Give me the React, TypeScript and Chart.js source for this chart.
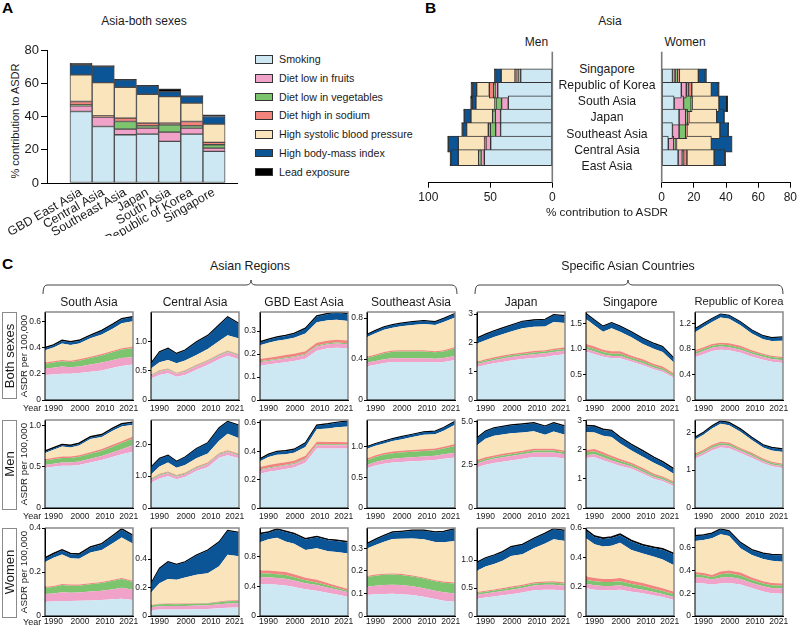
import React, { useEffect, useRef } from 'react';
import { Chart, registerables } from 'chart.js';

Chart.register(...registerables);

const FONT = "'Liberation Sans', Arial, Helvetica, sans-serif";
Chart.defaults.font.family = FONT;
Chart.defaults.color = '#1a1a1a';

// Risk factors, bottom to top of every stack
const RISKS = [
  'Smoking',
  'Diet low in fruits',
  'Diet low in vegetables',
  'Diet high in sodium',
  'High systolic blood pressure',
  'High body-mass index',
  'Lead exposure',
];
const RISK_COLORS = ['#cde8f3', '#f0a2c9', '#7dc46f', '#f2837d', '#fae4bb', '#0b5496', '#000000'];

// ---------- Panel A: Asia, both sexes (% contribution to ASDR) ----------
const A_REGIONS = ['GBD East Asia', 'Central Asia', 'Southeast Asia', 'Japan', 'South Asia', 'Republic of Korea', 'Singapore'];
const A_SMOKING = [43, 34, 29, 29.4, 25, 29.4, 19];
const A_FRUITS = [3.4, 5.6, 3.4, 3.6, 5.6, 3.6, 2];
const A_VEGETABLES = [0.6, 0.2, 4.6, 1.4, 4.4, 1.4, 2];
const A_SODIUM = [2, 0.6, 2, 1.6, 1, 2.6, 1.4];
const A_SBP = [16, 20, 18.6, 17.4, 16, 11, 11];
const A_BMI = [6, 9.6, 4.4, 5, 3, 4, 4.6];
const A_LEAD = [1, 0.6, 0.4, 0.4, 1.6, 0.6, 1];
const A_Y_TICKS = [0, 20, 40, 60, 80];

// ---------- Panel B: Asia, men vs women (% contribution to ASDR) ----------
const B_REGIONS = ['Singapore', 'Republic of Korea', 'South Asia', 'Japan', 'Southeast Asia', 'Central Asia', 'East Asia'];
const B_MEN_SMOKING = [25.5, 44, 35.5, 41.7, 41.7, 49.7, 54.8];
const B_MEN_FRUITS = [1.5, 2.2, 5.4, 4.3, 4, 3.8, 2.7];
const B_MEN_VEGETABLES = [1.5, 1, 4.5, 1, 4.3, 0.5, 0.5];
const B_MEN_SODIUM = [1.5, 3.6, 0.8, 1.1, 1.6, 0.6, 1.4];
const B_MEN_SBP = [11.2, 10.2, 15.4, 17.5, 17.5, 21.2, 16.4];
const B_MEN_BMI = [4.5, 3.2, 2.9, 5.4, 3.2, 8.1, 5.9];
const B_MEN_LEAD = [1.1, 1.4, 1.4, 0.5, 0.8, 0.5, 0.8];
const B_WOMEN_SMOKING = [6.7, 12.2, 7.7, 10.8, 6.7, 4.1, 10.2];
const B_WOMEN_FRUITS = [1.6, 3.1, 5.9, 4.1, 4.1, 3.4, 2.6];
const B_WOMEN_VEGETABLES = [1.7, 1.4, 4.7, 1.2, 4.1, 1, 0.8];
const B_WOMEN_SODIUM = [1, 2, 0.6, 0.8, 0.8, 0.7, 2.1];
const B_WOMEN_SBP = [11.8, 12.2, 16.7, 17.3, 20.5, 21.7, 16.9];
const B_WOMEN_BMI = [4.3, 4.3, 4.1, 4.5, 5.1, 12.5, 6.6];
const B_WOMEN_LEAD = [0.8, 0.6, 1.4, 0.4, 0.4, 0.4, 0.6];
const B_MEN_TICKS = [0, 50, 100];
const B_WOMEN_TICKS = [0, 20, 40, 60, 80];

// ---------- Panel C: ASDR per 100,000 by year ----------
// rows of each table: smoking, fruits, vegetables, sodium, SBP, BMI, lead
const YEARS = [1990, 1993, 1996, 1999, 2002, 2006, 2010, 2014, 2017, 2021];
const YEAR_TICKS = [1990, 2000, 2010, 2021];
const C_REGIONS = ['South Asia', 'Central Asia', 'GBD East Asia', 'Southeast Asia', 'Japan', 'Singapore', 'Republic of Korea'];
const C_SEXES = ['Both sexes', 'Men', 'Women'];

const SOUTH_ASIA_BOTH = [
  [0.19, 0.195, 0.2, 0.2, 0.205, 0.215, 0.225, 0.245, 0.26, 0.27],
  [0.05, 0.05, 0.055, 0.05, 0.05, 0.055, 0.06, 0.06, 0.06, 0.055],
  [0.035, 0.04, 0.04, 0.04, 0.045, 0.05, 0.055, 0.06, 0.065, 0.07],
  [0.01, 0.01, 0.01, 0.01, 0.01, 0.01, 0.01, 0.01, 0.01, 0.01],
  [0.095, 0.105, 0.125, 0.12, 0.12, 0.14, 0.15, 0.17, 0.19, 0.195],
  [0.015, 0.015, 0.02, 0.02, 0.02, 0.02, 0.025, 0.03, 0.03, 0.03],
  [0.006, 0.006, 0.006, 0.006, 0.006, 0.006, 0.006, 0.006, 0.006, 0.006],
];
const CENTRAL_ASIA_BOTH = [
  [0.37, 0.43, 0.46, 0.4, 0.43, 0.52, 0.6, 0.7, 0.76, 0.7],
  [0.05, 0.055, 0.055, 0.05, 0.055, 0.06, 0.06, 0.065, 0.065, 0.06],
  [0.01, 0.012, 0.012, 0.01, 0.012, 0.013, 0.013, 0.015, 0.015, 0.015],
  [0.01, 0.012, 0.012, 0.01, 0.012, 0.012, 0.012, 0.012, 0.012, 0.012],
  [0.1, 0.14, 0.15, 0.16, 0.17, 0.17, 0.19, 0.22, 0.26, 0.27],
  [0.08, 0.17, 0.19, 0.16, 0.17, 0.215, 0.225, 0.27, 0.31, 0.25],
  [0.01, 0.01, 0.01, 0.01, 0.01, 0.01, 0.01, 0.01, 0.01, 0.01],
];
const GBD_EAST_ASIA_BOTH = [
  [0.15, 0.155, 0.16, 0.165, 0.17, 0.18, 0.215, 0.225, 0.228, 0.225],
  [0.015, 0.015, 0.015, 0.016, 0.016, 0.017, 0.018, 0.018, 0.018, 0.018],
  [0.004, 0.004, 0.004, 0.004, 0.004, 0.004, 0.004, 0.004, 0.004, 0.004],
  [0.01, 0.01, 0.011, 0.011, 0.011, 0.011, 0.012, 0.012, 0.012, 0.012],
  [0.06, 0.065, 0.068, 0.068, 0.07, 0.078, 0.09, 0.088, 0.088, 0.085],
  [0.012, 0.013, 0.014, 0.015, 0.017, 0.02, 0.025, 0.028, 0.03, 0.03],
  [0.003, 0.003, 0.003, 0.003, 0.003, 0.003, 0.003, 0.003, 0.003, 0.003],
];
const SOUTHEAST_ASIA_BOTH = [
  [0.33, 0.345, 0.36, 0.37, 0.37, 0.37, 0.37, 0.365, 0.37, 0.39],
  [0.035, 0.036, 0.037, 0.037, 0.038, 0.038, 0.038, 0.038, 0.039, 0.04],
  [0.045, 0.052, 0.06, 0.065, 0.066, 0.066, 0.065, 0.062, 0.064, 0.075],
  [0.012, 0.012, 0.012, 0.012, 0.012, 0.012, 0.012, 0.012, 0.012, 0.013],
  [0.192, 0.207, 0.217, 0.221, 0.233, 0.247, 0.256, 0.254, 0.276, 0.288],
  [0.022, 0.024, 0.025, 0.026, 0.027, 0.028, 0.03, 0.03, 0.032, 0.035],
  [0.004, 0.004, 0.004, 0.004, 0.004, 0.004, 0.004, 0.004, 0.004, 0.004],
];
const JAPAN_BOTH = [
  [1.15, 1.22, 1.28, 1.33, 1.38, 1.43, 1.47, 1.5, 1.55, 1.6],
  [0.1, 0.11, 0.11, 0.12, 0.12, 0.12, 0.13, 0.13, 0.13, 0.13],
  [0.05, 0.05, 0.055, 0.055, 0.06, 0.06, 0.06, 0.06, 0.06, 0.06],
  [0.04, 0.045, 0.045, 0.05, 0.05, 0.05, 0.05, 0.05, 0.05, 0.05],
  [0.63, 0.665, 0.71, 0.745, 0.78, 0.85, 0.85, 0.83, 0.93, 0.85],
  [0.18, 0.19, 0.2, 0.2, 0.21, 0.22, 0.22, 0.23, 0.24, 0.24],
  [0.02, 0.02, 0.02, 0.02, 0.02, 0.02, 0.02, 0.02, 0.02, 0.02],
];
const SINGAPORE_BOTH = [
  [0.95, 0.9, 0.85, 0.82, 0.82, 0.75, 0.68, 0.6, 0.55, 0.43],
  [0.05, 0.05, 0.045, 0.045, 0.045, 0.04, 0.04, 0.035, 0.035, 0.03],
  [0.05, 0.05, 0.045, 0.045, 0.045, 0.04, 0.04, 0.035, 0.035, 0.03],
  [0.05, 0.05, 0.045, 0.045, 0.045, 0.04, 0.04, 0.035, 0.035, 0.03],
  [0.49, 0.41, 0.355, 0.455, 0.385, 0.36, 0.3, 0.295, 0.285, 0.21],
  [0.1, 0.1, 0.1, 0.1, 0.1, 0.1, 0.1, 0.1, 0.1, 0.08],
  [0.01, 0.01, 0.01, 0.01, 0.01, 0.01, 0.01, 0.01, 0.01, 0.01],
];
const KOREA_BOTH = [
  [0.67, 0.72, 0.77, 0.79, 0.78, 0.74, 0.68, 0.63, 0.6, 0.58],
  [0.05, 0.05, 0.05, 0.05, 0.05, 0.05, 0.045, 0.045, 0.045, 0.045],
  [0.03, 0.03, 0.03, 0.03, 0.03, 0.03, 0.03, 0.03, 0.03, 0.03],
  [0.03, 0.03, 0.03, 0.03, 0.03, 0.03, 0.025, 0.02, 0.02, 0.02],
  [0.285, 0.315, 0.345, 0.395, 0.385, 0.325, 0.265, 0.23, 0.23, 0.255],
  [0.05, 0.05, 0.05, 0.05, 0.05, 0.05, 0.05, 0.05, 0.05, 0.055],
  [0.005, 0.005, 0.005, 0.005, 0.005, 0.005, 0.005, 0.005, 0.005, 0.005],
];

const SOUTH_ASIA_MEN = [
  [0.486, 0.5, 0.51, 0.51, 0.52, 0.55, 0.58, 0.62, 0.65, 0.68],
  [0.034, 0.036, 0.04, 0.04, 0.042, 0.045, 0.05, 0.055, 0.06, 0.08],
  [0.053, 0.055, 0.055, 0.055, 0.057, 0.06, 0.063, 0.07, 0.075, 0.08],
  [0.017, 0.017, 0.018, 0.018, 0.018, 0.019, 0.02, 0.022, 0.023, 0.024],
  [0.075, 0.096, 0.12, 0.11, 0.12, 0.16, 0.145, 0.169, 0.177, 0.142],
  [0.015, 0.016, 0.017, 0.017, 0.018, 0.02, 0.022, 0.024, 0.025, 0.024],
  [0.01, 0.01, 0.01, 0.01, 0.01, 0.01, 0.01, 0.01, 0.01, 0.01],
];
const CENTRAL_ASIA_MEN = [
  [0.79, 0.93, 1.0, 0.9, 0.97, 1.16, 1.28, 1.58, 1.66, 1.56],
  [0.08, 0.09, 0.09, 0.08, 0.085, 0.09, 0.09, 0.095, 0.095, 0.09],
  [0.03, 0.03, 0.03, 0.03, 0.03, 0.03, 0.03, 0.03, 0.03, 0.03],
  [0.025, 0.025, 0.025, 0.025, 0.025, 0.025, 0.025, 0.025, 0.025, 0.025],
  [0.125, 0.225, 0.285, 0.225, 0.24, 0.255, 0.285, 0.38, 0.52, 0.485],
  [0.22, 0.25, 0.22, 0.2, 0.24, 0.3, 0.33, 0.4, 0.38, 0.4],
  [0.01, 0.01, 0.01, 0.01, 0.01, 0.01, 0.01, 0.01, 0.01, 0.01],
];
const GBD_EAST_ASIA_MEN = [
  [0.242, 0.255, 0.265, 0.275, 0.285, 0.32, 0.42, 0.42, 0.42, 0.42],
  [0.024, 0.024, 0.024, 0.024, 0.024, 0.024, 0.023, 0.023, 0.023, 0.022],
  [0.006, 0.006, 0.006, 0.006, 0.006, 0.006, 0.006, 0.006, 0.006, 0.006],
  [0.018, 0.018, 0.018, 0.018, 0.018, 0.018, 0.018, 0.017, 0.017, 0.016],
  [0.04, 0.057, 0.062, 0.057, 0.057, 0.062, 0.088, 0.094, 0.104, 0.111],
  [0.014, 0.016, 0.021, 0.021, 0.021, 0.026, 0.026, 0.031, 0.031, 0.036],
  [0.004, 0.004, 0.004, 0.004, 0.004, 0.004, 0.004, 0.004, 0.004, 0.004],
];
const SOUTHEAST_ASIA_MEN = [
  [0.645, 0.69, 0.72, 0.74, 0.75, 0.76, 0.77, 0.78, 0.8, 0.82],
  [0.055, 0.058, 0.06, 0.062, 0.063, 0.065, 0.067, 0.07, 0.073, 0.08],
  [0.075, 0.08, 0.085, 0.088, 0.09, 0.09, 0.09, 0.09, 0.095, 0.11],
  [0.03, 0.03, 0.03, 0.03, 0.03, 0.03, 0.03, 0.03, 0.03, 0.03],
  [0.159, 0.154, 0.155, 0.168, 0.183, 0.209, 0.235, 0.23, 0.26, 0.314],
  [0.03, 0.032, 0.034, 0.036, 0.038, 0.04, 0.042, 0.044, 0.046, 0.05],
  [0.006, 0.006, 0.006, 0.006, 0.006, 0.006, 0.006, 0.006, 0.006, 0.006],
];
const JAPAN_MEN = [
  [2.35, 2.5, 2.6, 2.68, 2.75, 2.85, 2.95, 2.95, 2.95, 2.85],
  [0.22, 0.23, 0.24, 0.25, 0.25, 0.25, 0.26, 0.26, 0.26, 0.26],
  [0.1, 0.1, 0.1, 0.11, 0.11, 0.11, 0.11, 0.11, 0.11, 0.11],
  [0.1, 0.1, 0.1, 0.1, 0.1, 0.1, 0.1, 0.1, 0.1, 0.09],
  [0.86, 1.07, 1.14, 1.11, 1.11, 1.06, 1.01, 0.82, 1.0, 0.92],
  [0.4, 0.42, 0.43, 0.44, 0.45, 0.46, 0.47, 0.47, 0.48, 0.48],
  [0.03, 0.03, 0.03, 0.03, 0.03, 0.03, 0.03, 0.03, 0.03, 0.03],
];
const SINGAPORE_MEN = [
  [1.72, 1.75, 1.65, 1.55, 1.45, 1.35, 1.18, 1.0, 0.92, 0.75],
  [0.1, 0.1, 0.1, 0.09, 0.09, 0.08, 0.07, 0.07, 0.06, 0.06],
  [0.1, 0.1, 0.09, 0.09, 0.08, 0.07, 0.07, 0.06, 0.06, 0.05],
  [0.08, 0.08, 0.08, 0.07, 0.07, 0.06, 0.06, 0.05, 0.05, 0.05],
  [0.62, 0.57, 0.57, 0.65, 0.53, 0.42, 0.39, 0.37, 0.32, 0.26],
  [0.2, 0.2, 0.2, 0.2, 0.2, 0.19, 0.18, 0.17, 0.16, 0.15],
  [0.03, 0.03, 0.03, 0.03, 0.03, 0.03, 0.03, 0.03, 0.03, 0.03],
];
const KOREA_MEN = [
  [1.3, 1.4, 1.52, 1.6, 1.58, 1.45, 1.32, 1.18, 1.1, 1.05],
  [0.06, 0.06, 0.065, 0.065, 0.065, 0.06, 0.06, 0.055, 0.05, 0.05],
  [0.04, 0.04, 0.045, 0.045, 0.045, 0.04, 0.04, 0.04, 0.04, 0.04],
  [0.04, 0.04, 0.04, 0.04, 0.04, 0.035, 0.035, 0.03, 0.03, 0.03],
  [0.365, 0.395, 0.43, 0.475, 0.455, 0.43, 0.34, 0.29, 0.3, 0.305],
  [0.05, 0.05, 0.055, 0.06, 0.06, 0.06, 0.06, 0.06, 0.065, 0.07],
  [0.015, 0.015, 0.015, 0.015, 0.015, 0.015, 0.015, 0.015, 0.015, 0.015],
];

const SOUTH_ASIA_WOMEN = [
  [0.065, 0.066, 0.068, 0.068, 0.069, 0.071, 0.073, 0.076, 0.078, 0.073],
  [0.035, 0.036, 0.04, 0.038, 0.038, 0.04, 0.042, 0.046, 0.05, 0.047],
  [0.028, 0.03, 0.033, 0.032, 0.031, 0.033, 0.035, 0.038, 0.04, 0.035],
  [0.005, 0.005, 0.005, 0.005, 0.005, 0.005, 0.005, 0.005, 0.005, 0.005],
  [0.113, 0.128, 0.134, 0.12, 0.117, 0.14, 0.145, 0.167, 0.184, 0.169],
  [0.015, 0.016, 0.018, 0.018, 0.019, 0.022, 0.026, 0.032, 0.036, 0.035],
  [0.004, 0.004, 0.004, 0.004, 0.004, 0.004, 0.004, 0.004, 0.004, 0.004],
];
const CENTRAL_ASIA_WOMEN = [
  [0.04, 0.045, 0.046, 0.045, 0.046, 0.048, 0.05, 0.055, 0.058, 0.06],
  [0.022, 0.024, 0.025, 0.025, 0.025, 0.025, 0.025, 0.027, 0.03, 0.03],
  [0.012, 0.013, 0.013, 0.013, 0.013, 0.013, 0.013, 0.015, 0.016, 0.016],
  [0.004, 0.004, 0.004, 0.004, 0.004, 0.004, 0.004, 0.004, 0.004, 0.004],
  [0.087, 0.144, 0.172, 0.168, 0.182, 0.2, 0.208, 0.249, 0.322, 0.31],
  [0.061, 0.102, 0.118, 0.105, 0.108, 0.135, 0.16, 0.168, 0.167, 0.164],
  [0.003, 0.003, 0.003, 0.003, 0.003, 0.003, 0.003, 0.003, 0.003, 0.003],
];
const GBD_EAST_ASIA_WOMEN = [
  [0.43, 0.43, 0.42, 0.41, 0.39, 0.36, 0.34, 0.31, 0.29, 0.26],
  [0.09, 0.09, 0.09, 0.09, 0.085, 0.08, 0.075, 0.07, 0.065, 0.06],
  [0.05, 0.05, 0.05, 0.05, 0.045, 0.04, 0.035, 0.03, 0.025, 0.02],
  [0.04, 0.04, 0.04, 0.04, 0.04, 0.035, 0.035, 0.03, 0.025, 0.022],
  [0.38, 0.42, 0.45, 0.41, 0.41, 0.37, 0.423, 0.43, 0.455, 0.478],
  [0.108, 0.088, 0.108, 0.128, 0.128, 0.143, 0.15, 0.148, 0.148, 0.148],
  [0.012, 0.012, 0.012, 0.012, 0.012, 0.012, 0.012, 0.012, 0.012, 0.012],
];
const SOUTHEAST_ASIA_WOMEN = [
  [0.093, 0.096, 0.098, 0.099, 0.097, 0.093, 0.085, 0.075, 0.068, 0.063],
  [0.037, 0.038, 0.039, 0.04, 0.04, 0.039, 0.038, 0.037, 0.037, 0.037],
  [0.043, 0.045, 0.046, 0.045, 0.045, 0.043, 0.043, 0.042, 0.043, 0.044],
  [0.005, 0.005, 0.005, 0.005, 0.005, 0.005, 0.005, 0.005, 0.005, 0.005],
  [0.121, 0.131, 0.141, 0.153, 0.156, 0.164, 0.169, 0.169, 0.174, 0.184],
  [0.02, 0.023, 0.026, 0.028, 0.03, 0.034, 0.038, 0.042, 0.046, 0.052],
  [0.003, 0.003, 0.003, 0.003, 0.003, 0.003, 0.003, 0.003, 0.003, 0.003],
];
const JAPAN_WOMEN = [
  [0.31, 0.33, 0.35, 0.37, 0.39, 0.42, 0.46, 0.47, 0.47, 0.45],
  [0.07, 0.072, 0.075, 0.078, 0.08, 0.082, 0.085, 0.088, 0.09, 0.09],
  [0.03, 0.03, 0.03, 0.032, 0.033, 0.034, 0.035, 0.036, 0.037, 0.037],
  [0.02, 0.02, 0.02, 0.021, 0.022, 0.022, 0.023, 0.023, 0.023, 0.023],
  [0.38, 0.433, 0.455, 0.484, 0.545, 0.547, 0.607, 0.678, 0.75, 0.74],
  [0.14, 0.145, 0.15, 0.155, 0.16, 0.165, 0.17, 0.175, 0.18, 0.18],
  [0.01, 0.01, 0.01, 0.01, 0.01, 0.01, 0.01, 0.01, 0.01, 0.01],
];
const SINGAPORE_WOMEN = [
  [0.19, 0.18, 0.175, 0.175, 0.18, 0.165, 0.155, 0.14, 0.13, 0.11],
  [0.03, 0.03, 0.03, 0.03, 0.03, 0.028, 0.025, 0.023, 0.021, 0.02],
  [0.028, 0.028, 0.027, 0.027, 0.028, 0.026, 0.025, 0.022, 0.02, 0.018],
  [0.022, 0.022, 0.021, 0.021, 0.022, 0.021, 0.02, 0.019, 0.018, 0.018],
  [0.26, 0.23, 0.222, 0.227, 0.24, 0.21, 0.202, 0.201, 0.196, 0.181],
  [0.052, 0.049, 0.05, 0.052, 0.052, 0.059, 0.053, 0.058, 0.067, 0.072],
  [0.008, 0.008, 0.008, 0.008, 0.008, 0.008, 0.008, 0.008, 0.008, 0.008],
];
const KOREA_WOMEN = [
  [0.29, 0.285, 0.275, 0.285, 0.29, 0.275, 0.245, 0.215, 0.2, 0.195],
  [0.05, 0.05, 0.045, 0.05, 0.052, 0.05, 0.045, 0.045, 0.045, 0.045],
  [0.025, 0.022, 0.02, 0.03, 0.032, 0.03, 0.025, 0.025, 0.025, 0.025],
  [0.02, 0.02, 0.02, 0.025, 0.025, 0.025, 0.022, 0.02, 0.02, 0.02],
  [0.273, 0.288, 0.32, 0.327, 0.301, 0.214, 0.198, 0.195, 0.195, 0.191],
  [0.04, 0.04, 0.04, 0.04, 0.04, 0.045, 0.042, 0.045, 0.05, 0.053],
  [0.006, 0.006, 0.006, 0.006, 0.006, 0.006, 0.006, 0.006, 0.006, 0.006],
];

const C_TABLES = [
  [SOUTH_ASIA_BOTH, CENTRAL_ASIA_BOTH, GBD_EAST_ASIA_BOTH, SOUTHEAST_ASIA_BOTH, JAPAN_BOTH, SINGAPORE_BOTH, KOREA_BOTH],
  [SOUTH_ASIA_MEN, CENTRAL_ASIA_MEN, GBD_EAST_ASIA_MEN, SOUTHEAST_ASIA_MEN, JAPAN_MEN, SINGAPORE_MEN, KOREA_MEN],
  [SOUTH_ASIA_WOMEN, CENTRAL_ASIA_WOMEN, GBD_EAST_ASIA_WOMEN, SOUTHEAST_ASIA_WOMEN, JAPAN_WOMEN, SINGAPORE_WOMEN, KOREA_WOMEN],
];

// y tick labels of each small chart
const C_TICKS_BOTH = [
  ['0', '0.2', '0.4', '0.6'], ['0', '0.5', '1.0'], ['0', '0.1', '0.2', '0.3'], ['0', '0.4', '0.8'],
  ['0', '1', '2', '3'], ['0', '0.5', '1.0', '1.5'], ['0', '0.4', '0.8', '1.2'],
];
const C_TICKS_MEN = [
  ['0', '0.5', '1.0'], ['0', '1.0', '2.0'], ['0', '0.2', '0.4', '0.6'], ['0', '0.5', '1.0'],
  ['0', '2.5', '5.0'], ['0', '1', '2', '3'], ['0', '1', '2'],
];
const C_TICKS_WOMEN = [
  ['0', '0.2', '0.4'], ['0', '0.2', '0.4'], ['0', '0.4', '0.8'], ['0', '0.1', '0.2', '0.3'],
  ['0', '0.5', '1.0'], ['0', '0.2', '0.4', '0.6'], ['0', '0.2', '0.4', '0.6'],
];
const C_TICKS = [C_TICKS_BOTH, C_TICKS_MEN, C_TICKS_WOMEN];

// y axis upper bounds of each small chart
const C_AXIS_MAX = [
  [0.67, 1.51, 0.383, 0.858, 3.07, 1.725, 1.38],
  [1.063, 2.76, 0.62, 1.43, 5.08, 3.03, 2.32],
  [0.4, 0.617, 1.18, 0.39, 1.57, 0.6, 0.77],
];

// ---------- layout ----------
const COL_LEFT = [45, 151, 260, 367, 477, 586, 695];
const ROW_TOP = [312, 420, 528];
const PLOT = 88;
// horizontal nudge of each year label relative to its year position
const YEAR_LABEL_SHIFT = [8.5, 6.6, 3.2, -4.3];

const axisLinesPlugin = {
  id: 'axisLines',
  afterDatasetsDraw(chart: any) {
    const { ctx, chartArea } = chart;
    const { left, top, right, bottom } = chartArea;
    ctx.save();
    ctx.strokeStyle = '#8a8a8a';
    ctx.lineWidth = 1.5;
    ctx.beginPath();
    ctx.moveTo(left, top);
    ctx.lineTo(right, top);
    ctx.lineTo(right, bottom);
    ctx.stroke();
    ctx.strokeStyle = '#000';
    ctx.lineWidth = 1;
    ctx.beginPath();
    ctx.moveTo(left, top);
    ctx.lineTo(left, bottom);
    ctx.lineTo(right, bottom);
    ctx.stroke();
    ctx.restore();
  },
};

function yearLabelsPlugin(row: number) {
  return {
    id: 'yearLabels',
    afterDraw(chart: any) {
      const { ctx, chartArea, scales } = chart;
      const y = chartArea.bottom + (row === 2 ? 5.7 : 8.3);
      ctx.save();
      ctx.font = `8.5px ${FONT}`;
      ctx.fillStyle = '#1a1a1a';
      ctx.textAlign = 'center';
      ctx.textBaseline = 'middle';
      YEAR_TICKS.forEach((v, i) => {
        ctx.fillText(String(v), scales.x.getPixelForValue(v) + YEAR_LABEL_SHIFT[i], y);
      });
      ctx.restore();
    },
  };
}

function zeroLinePlugin(side: 'left' | 'right') {
  return {
    id: 'zeroLine',
    afterDatasetsDraw(chart: any) {
      const { ctx, chartArea } = chart;
      const x = side === 'left' ? chartArea.left : chartArea.right;
      ctx.save();
      ctx.strokeStyle = '#7a7a7a';
      ctx.lineWidth = 1.6;
      ctx.beginPath();
      ctx.moveTo(x, chartArea.top);
      ctx.lineTo(x, chartArea.bottom);
      ctx.stroke();
      ctx.restore();
    },
  };
}

function buildPanelA() {
  const series = [A_SMOKING, A_FRUITS, A_VEGETABLES, A_SODIUM, A_SBP, A_BMI, A_LEAD];
  return {
    type: 'bar',
    data: {
      datasets: series.map((vals, k) => ({
        label: RISKS[k],
        data: vals.map((v, i) => ({ x: i, y: v })),
        backgroundColor: RISK_COLORS[k],
        borderColor: '#4a4a4a',
        borderWidth: 1,
        borderSkipped: false,
        barPercentage: 1,
        categoryPercentage: 1,
      })),
    },
    options: {
      animation: false,
      responsive: false,
      devicePixelRatio: 1,
      layout: { padding: { left: 0, top: 14, right: 5, bottom: 0 } },
      plugins: { legend: { display: false }, tooltip: { enabled: false } },
      scales: {
        x: {
          type: 'linear',
          stacked: true,
          min: -1,
          max: 6.5,
          afterBuildTicks: (s: any) => {
            s.ticks = [-1, ...A_REGIONS.map((_, i) => i)].map((v) => ({ value: v }));
          },
          ticks: {
            autoSkip: false,
            minRotation: 30,
            maxRotation: 30,
            padding: 2,
            font: { size: 12.5 },
            color: '#1a1a1a',
            callback: (v: number) => (v >= 0 ? A_REGIONS[v] : ''),
          },
          grid: { display: false, drawTicks: false },
          border: { display: true, color: '#000', width: 1 },
          afterFit: (s: any) => { s.height = 53; },
        },
        y: {
          stacked: true,
          min: 0,
          max: 80,
          afterBuildTicks: (s: any) => { s.ticks = A_Y_TICKS.map((v) => ({ value: v })); },
          ticks: { font: { size: 13 }, padding: 2, color: '#1a1a1a' },
          grid: { display: true, drawOnChartArea: false, tickLength: 6, color: '#000' },
          border: { display: true, color: '#000', width: 1 },
          afterFit: (s: any) => { s.width = 47; },
        },
      },
    },
  };
}

function buildPanelB(series: number[][], ticks: number[], max: number, reverse: boolean, pad: { left: number; right: number }) {
  return {
    type: 'bar',
    data: {
      datasets: series.map((vals, k) => ({
        label: RISKS[k],
        data: vals.map((v, i) => ({ x: v, y: i })),
        backgroundColor: RISK_COLORS[k],
        borderColor: '#333',
        borderWidth: 1,
        borderSkipped: false,
        barThickness: 16,
      })),
    },
    options: {
      indexAxis: 'y',
      animation: false,
      responsive: false,
      devicePixelRatio: 1,
      layout: { padding: { left: pad.left, right: pad.right, top: 4.7, bottom: 0 } },
      plugins: { legend: { display: false }, tooltip: { enabled: false } },
      scales: {
        x: {
          type: 'linear',
          stacked: true,
          min: 0,
          max,
          reverse,
          afterBuildTicks: (s: any) => { s.ticks = ticks.map((v) => ({ value: v })); },
          ticks: { font: { size: 12 }, padding: 3, color: '#1a1a1a', maxRotation: 0, callback: (v: number) => String(v) },
          grid: { display: true, drawOnChartArea: false, tickLength: 5, color: '#000' },
          border: { display: true, color: '#000', width: 1 },
          afterFit: (s: any) => { s.height = 24.3; },
        },
        y: { type: 'linear', stacked: true, display: false, min: -1.05, max: 7.05, reverse: true },
      },
    },
    plugins: [zeroLinePlugin(reverse ? 'right' : 'left')],
  };
}

function buildArea(table: number[][], max: number, tickLabels: string[], row: number) {
  return {
    type: 'line',
    data: {
      datasets: table.map((vals, k) => ({
        label: RISKS[k],
        data: YEARS.map((yr, i) => ({ x: yr, y: vals[i] })),
        backgroundColor: RISK_COLORS[k],
        borderColor: k === 6 ? '#000' : 'rgba(0,0,0,0)',
        borderWidth: k === 6 ? 1.2 : 0,
        pointRadius: 0,
        tension: 0,
        fill: k === 0 ? 'origin' : '-1',
      })),
    },
    options: {
      animation: false,
      responsive: false,
      devicePixelRatio: 1,
      layout: { padding: { left: 0, top: 6, right: 10, bottom: 0 } },
      plugins: { legend: { display: false }, tooltip: { enabled: false } },
      scales: {
        x: {
          type: 'linear',
          min: 1990,
          max: 2021,
          afterBuildTicks: (s: any) => { s.ticks = YEAR_TICKS.map((v) => ({ value: v })); },
          ticks: { display: false },
          grid: { display: false, drawTicks: false },
          border: { display: true, color: '#000', width: 1 },
          afterFit: (s: any) => { s.height = 16; },
        },
        y: {
          stacked: true,
          min: 0,
          max,
          afterBuildTicks: (s: any) => { s.ticks = tickLabels.map((t) => ({ value: parseFloat(t) })); },
          ticks: {
            font: { size: 8.5 },
            padding: 1,
            color: '#1a1a1a',
            callback: (_v: number, i: number) => tickLabels[i],
          },
          grid: { display: true, drawOnChartArea: false, tickLength: 3, color: '#000' },
          border: { display: true, color: '#000', width: 1 },
          afterFit: (s: any) => { s.width = 32; },
        },
      },
    },
    plugins: [axisLinesPlugin, yearLabelsPlugin(row)],
  };
}

function ChartBox({ left, top, width, height, build }: { left: number; top: number; width: number; height: number; build: () => any }) {
  const ref = useRef<HTMLCanvasElement>(null);
  useEffect(() => {
    const chart = new Chart(ref.current as HTMLCanvasElement, build());
    return () => chart.destroy();
  }, []);
  return (
    <canvas
      ref={ref}
      width={width}
      height={height}
      style={{ position: 'absolute', left, top, width, height }}
    />
  );
}

function Txt({ x, y, size, children, bold, rotate, align = 'center' }: {
  x: number; y: number; size: number; children: React.ReactNode; bold?: boolean; rotate?: number; align?: 'center' | 'left';
}) {
  const tx = align === 'center' ? '-50%' : '0';
  return (
    <div
      style={{
        position: 'absolute',
        left: x,
        top: y,
        transform: `translate(${tx}, -50%)${rotate ? ` rotate(${rotate}deg)` : ''}`,
        fontSize: size,
        fontWeight: bold ? 700 : 400,
        lineHeight: 1,
        whiteSpace: 'nowrap',
        color: '#1a1a1a',
      }}
    >
      {children}
    </div>
  );
}

export default function App() {
  const menSeries = [B_MEN_SMOKING, B_MEN_FRUITS, B_MEN_VEGETABLES, B_MEN_SODIUM, B_MEN_SBP, B_MEN_BMI, B_MEN_LEAD];
  const womenSeries = [B_WOMEN_SMOKING, B_WOMEN_FRUITS, B_WOMEN_VEGETABLES, B_WOMEN_SODIUM, B_WOMEN_SBP, B_WOMEN_BMI, B_WOMEN_LEAD];

  return (
    <div
      style={{
        position: 'fixed',
        left: 0,
        top: 0,
        width: 800,
        height: 629,
        background: '#fff',
        fontFamily: FONT,
        overflow: 'hidden',
      }}
    >
      {/* Panel A */}
      <div style={{ position: 'absolute', left: 2, top: 0, fontSize: 15.5, fontWeight: 700, lineHeight: 1 }}>A</div>
      <Txt x={144} y={20.7} size={12}>Asia-both sexes</Txt>
      <Txt x={15} y={121} size={11} rotate={-90}>% contribution to ASDR</Txt>
      <ChartBox left={0} top={36} width={242} height={200} build={buildPanelA} />
      {RISKS.map((r, i) => (
        <React.Fragment key={r}>
          <div
            style={{
              position: 'absolute',
              left: 255,
              top: 59.3 + i * 18.7 - 4,
              width: 16,
              height: 6.5,
              background: RISK_COLORS[i],
              border: '1px solid #333',
            }}
          />
          <Txt x={279} y={59.3 + i * 18.7} size={10.7} align="left">{r}</Txt>
        </React.Fragment>
      ))}

      {/* Panel B */}
      <div style={{ position: 'absolute', left: 425, top: 0, fontSize: 15.5, fontWeight: 700, lineHeight: 1 }}>B</div>
      <Txt x={610} y={20.5} size={12}>Asia</Txt>
      <Txt x={536.5} y={42} size={12}>Men</Txt>
      <Txt x={685} y={42} size={12}>Women</Txt>
      <ChartBox left={412} top={47} width={150} height={160}
        build={() => buildPanelB(menSeries, B_MEN_TICKS, 100, true, { left: 16.3, right: 9.7 })} />
      <ChartBox left={650} top={47} width={150} height={160}
        build={() => buildPanelB(womenSeries, B_WOMEN_TICKS, 80, false, { left: 11.7, right: 7.3 })} />
      {B_REGIONS.map((r, i) => (
        <Txt key={r} x={607} y={68.5 + i * 16.3} size={12.2}>{r}</Txt>
      ))}
      <Txt x={607} y={212} size={11.7}>% contribution to ASDR</Txt>

      {/* Panel C */}
      <div style={{ position: 'absolute', left: 2, top: 256, fontSize: 15.5, fontWeight: 700, lineHeight: 1 }}>C</div>
      <Txt x={250} y={265.7} size={12.4}>Asian Regions</Txt>
      <Txt x={628} y={265.7} size={12.4}>Specific Asian Countries</Txt>
      <svg width={800} height={629} style={{ position: 'absolute', left: 0, top: 0, pointerEvents: 'none' }}>
        <path d="M43 294 Q43 285 47 285 L246 285 Q251 285 251 280 Q251 285 256 285 L452 285 Q457 285 457 294"
          fill="none" stroke="#444" strokeWidth={1} />
        <path d="M475 294 Q475 285 479 285 L623 285 Q628 285 628 280 Q628 285 633 285 L778 285 Q783 285 783 294"
          fill="none" stroke="#444" strokeWidth={1} />
      </svg>
      {C_REGIONS.map((r, c) => (
        <Txt key={r} x={COL_LEFT[c] + PLOT / 2} y={301.7} size={r === 'Republic of Korea' ? 11.2 : 12}>{r}</Txt>
      ))}
      {C_SEXES.map((s, r) => (
        <React.Fragment key={s}>
          <div
            style={{
              position: 'absolute',
              left: 1.5,
              top: ROW_TOP[r],
              width: 13,
              height: PLOT - (r === 0 ? 3 : 0),
              border: '1.3px solid #8a8a8a',
            }}
          />
          <Txt x={8.8} y={ROW_TOP[r] + PLOT / 2} size={13} rotate={-90}>{s}</Txt>
          <Txt x={24} y={ROW_TOP[r] + PLOT / 2} size={9.8} rotate={-90}>ASDR per 100,000</Txt>
          <Txt x={32.2} y={ROW_TOP[r] + PLOT + (r === 2 ? 5.7 : 8.3)} size={9}>Year</Txt>
        </React.Fragment>
      ))}
      {C_TABLES.map((rowTables, r) =>
        rowTables.map((table, c) => (
          <ChartBox
            key={`${r}-${c}`}
            left={COL_LEFT[c] - 32}
            top={ROW_TOP[r] - 6}
            width={130}
            height={110}
            build={() => buildArea(table, C_AXIS_MAX[r][c], C_TICKS[r][c], r)}
          />
        )),
      )}
    </div>
  );
}
